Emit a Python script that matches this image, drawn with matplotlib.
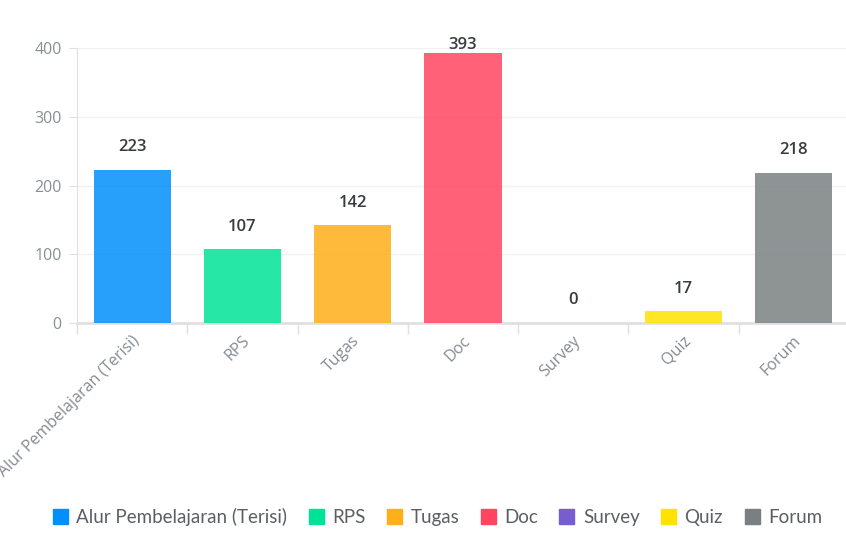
import matplotlib
matplotlib.use("Agg")
import matplotlib.pyplot as plt
import matplotlib.transforms as mtransforms
from matplotlib.patches import Patch
import numpy as np

categories = ["Alur Pembelajaran (Terisi)", "RPS", "Tugas", "Doc", "Survey", "Quiz", "Forum"]
values = [223, 107, 142, 393, 0, 17, 218]
colors = ["#008FFB", "#00E396", "#FEB019", "#FF4560", "#775DD0", "#FFE200", "#7A8082"]
yticks = [0, 100, 200, 300, 400]

plt.rcParams['font.family'] = ['Open Sans', 'DejaVu Sans']

fig = plt.figure(figsize=(8.46, 5.39), dpi=100)
ax = fig.add_axes([77/846, 1-323/539, 772/846, (323-48)/539])

x = np.arange(len(categories))
ax.bar(x, values, width=0.7, color=colors, alpha=0.85, linewidth=0, zorder=3)

for xi, v in zip(x, values):
    ly = min(v + 33, 405)
    ax.text(xi, ly, str(v), ha='center', va='center', fontsize=12, fontweight='semibold',
            color='#373d3f', zorder=4)

ax.set_xlim(-0.5, len(categories) - 0.5)
ax.set_ylim(0, 400)
ax.set_yticks(yticks)
ax.set_yticklabels([str(t) for t in yticks], fontsize=11.5, color='#8a8f94')
ax.tick_params(axis='y', length=6, color='#e0e0e0', pad=5)
ax.grid(axis='y', color='#f1f1f1', linewidth=1, zorder=0)

ax.set_xticks(x)
ax.set_xticklabels(categories, rotation=45, ha='right', rotation_mode='anchor',
                   fontsize=11.5, color='#858b92')
ax.tick_params(axis='x', length=0, pad=7)
offset = mtransforms.ScaledTranslation(-1/100, 0, fig.dpi_scale_trans)
for lab in ax.get_xticklabels():
    lab.set_transform(lab.get_transform() + offset)
ax.set_xticks(np.arange(-0.5, len(categories), 1), minor=True)
ax.tick_params(axis='x', which='minor', length=8, color='#e0e0e0', width=1)

for s in ['top', 'right']:
    ax.spines[s].set_visible(False)
ax.spines['left'].set_color('#e0e0e0')
ax.spines['bottom'].set_color('#e0e0e0')
ax.spines['bottom'].set_linewidth(2)

handles = [Patch(facecolor=c, edgecolor=c, label=l) for c, l in zip(colors, categories)]
fig.legend(handles=handles, loc='center', bbox_to_anchor=(0.517, 1-517/539), ncol=7, frameon=False,
           handlelength=0.8, handleheight=0.8, handletextpad=0.45, columnspacing=1.15,
           labelcolor='#5b5f63', prop={'family': ['Lato', 'DejaVu Sans'], 'size': 13.5})

fig.savefig("out.png", dpi=100, facecolor='white')
